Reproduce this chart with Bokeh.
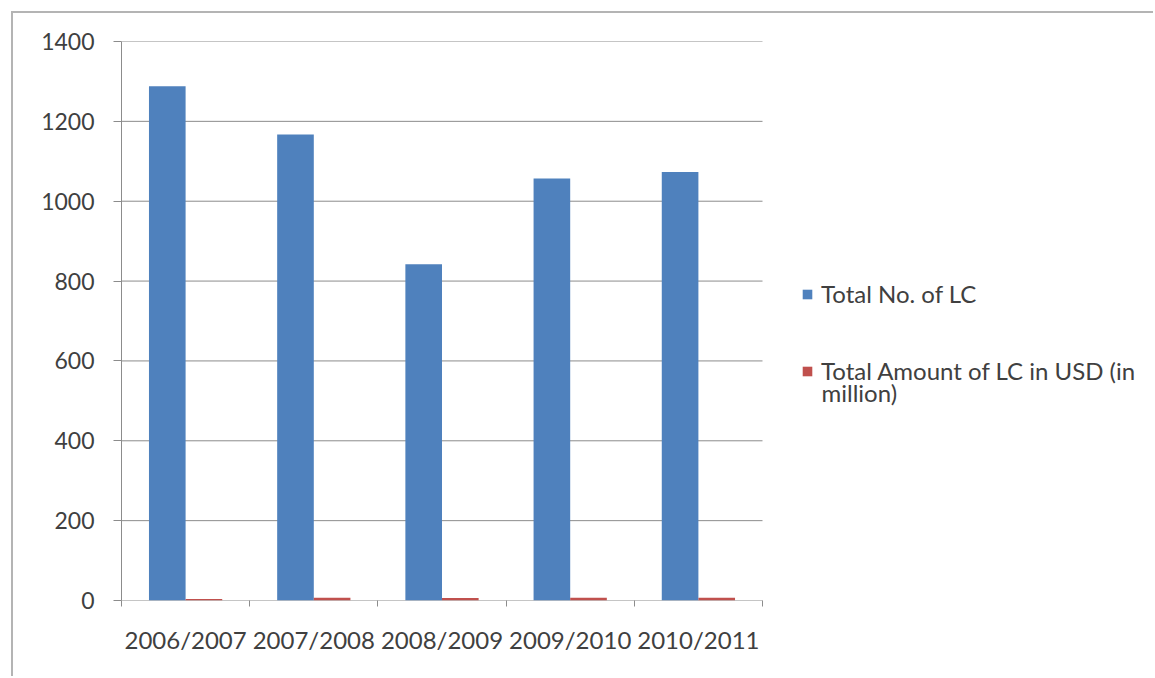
from bokeh.plotting import figure
from bokeh.models import (Range1d, FixedTicker, Legend, LegendItem, Label,
                          CustomJSTickFormatter)
from bokeh.embed import file_html
from bokeh.resources import INLINE

# ---- data ----
categories = ["2006/2007", "2007/2008", "2008/2009", "2009/2010", "2010/2011"]
total_no_of_lc = [1288, 1167, 842, 1057, 1073]
total_amount_usd_million = [4, 7, 6, 7, 7]
y_ticks = [0, 200, 400, 600, 800, 1000, 1200, 1400]
series_names = ["Total No. of LC", "Total Amount of LC in USD (in", "million)"]

BLUE = "#4F81BD"
RED = "#C0504D"
TEXT = "#404040"
GRID = "#8c8c8c"
FONT = "Lato"

n = len(categories)
bar_w = 1 / 3.5
xs_blue = [i + 0.5 - bar_w / 2 for i in range(n)]
xs_red = [i + 0.5 + bar_w / 2 for i in range(n)]

# frame spans from plot-area left to the right edge; legend lives in the empty part
x_end = n * 1034 / 641

p = figure(width=1142, height=665, output_backend="svg", toolbar_location=None,
           x_range=Range1d(0, x_end), y_range=Range1d(0, 1400),
           min_border_left=108, min_border_top=28, min_border_right=0,
           min_border_bottom=78, margin=(11, 0, 0, 11))
p.styles = {"border-left": "2px solid #b4b4b4", "border-top": "2px solid #b4b4b4"}
p.outline_line_color = None
p.background_fill_color = "white"
p.border_fill_color = "white"

# horizontal gridlines limited to the plot area
p.segment(x0=[0] * len(y_ticks), x1=[n] * len(y_ticks), y0=y_ticks, y1=y_ticks,
          line_color=GRID, line_width=1)

r_blue = p.vbar(x=xs_blue, top=total_no_of_lc, width=bar_w, fill_color=BLUE, line_color=None)
r_red = p.vbar(x=xs_red, top=total_amount_usd_million, width=bar_w, fill_color=RED, line_color=None)

# axes
p.xaxis.ticker = FixedTicker(ticks=[i + 0.5 for i in range(n)], minor_ticks=list(range(n + 1)))
p.xaxis.formatter = CustomJSTickFormatter(args=dict(cats=categories),
                                          code="return cats[Math.floor(tick)];")
p.xaxis.major_tick_line_color = None
p.xaxis.minor_tick_in = 0
p.xaxis.minor_tick_out = 6
p.xaxis.minor_tick_line_color = GRID
p.xaxis.axis_line_color = None
p.xaxis.major_label_text_font = FONT
p.xaxis.major_label_text_font_size = "24px"
p.xaxis.major_label_text_color = TEXT
p.xaxis.major_label_standoff = 18

p.yaxis.ticker = FixedTicker(ticks=y_ticks, minor_ticks=[])
p.yaxis.major_tick_in = 0
p.yaxis.major_tick_out = 8
p.yaxis.major_tick_line_color = GRID
p.yaxis.axis_line_color = GRID
p.yaxis.major_label_text_font = FONT
p.yaxis.major_label_text_font_size = "23px"
p.yaxis.major_label_text_color = TEXT
p.yaxis.major_label_standoff = 19

p.grid.grid_line_color = None

legend = Legend(items=[LegendItem(label=series_names[0], renderers=[r_blue]),
                       LegendItem(label=series_names[1], renderers=[r_red])],
                location=(680, 215), orientation="vertical",
                glyph_width=12, glyph_height=12, label_standoff=8, spacing=48,
                label_text_font=FONT, label_text_font_size="24px",
                label_text_color=TEXT, border_line_color=None,
                background_fill_alpha=0, padding=0, margin=0)
p.add_layout(legend)
p.add_layout(Label(x=700, y=208, x_units="screen", y_units="screen",
                   text=series_names[2], text_font=FONT, text_font_size="24px",
                   text_color=TEXT, text_baseline="middle"))

open("out.html", "w").write(file_html(p, INLINE))
